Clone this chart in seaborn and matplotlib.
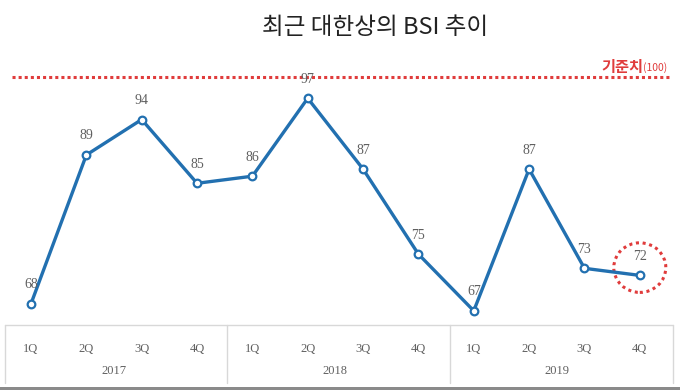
import numpy as np
import pandas as pd
import matplotlib.pyplot as plt
import seaborn as sns
from matplotlib.patches import Ellipse, Rectangle

# Data
years = ['2017', '2018', '2019']
quarters = ['1Q', '2Q', '3Q', '4Q']
bsi = [68, 89, 94, 85, 86, 97, 87, 75, 67, 87, 73, 72]
baseline = 100

df = pd.DataFrame({
    'idx': np.arange(len(bsi)),
    'bsi': bsi,
    'q': quarters * len(years),
})

sns.set_style('white')
plt.rcParams['font.family'] = ['Noto Sans CJK KR', 'DejaVu Sans']

fig = plt.figure(figsize=(6.8, 3.9), dpi=100)
ax = fig.add_axes([5 / 680, 1 - 325 / 390, 668 / 680, 265 / 390])

blue = '#2270b0'
red = '#e03c3c'
gray = '#606060'
serif = ['Liberation Serif', 'DejaVu Serif']

sns.lineplot(data=df, x='idx', y='bsi', ax=ax, color=blue, linewidth=2.4,
             marker='o', markersize=5.5, markerfacecolor='white',
             markeredgecolor=blue, markeredgewidth=1.6)

ax.set_xlim(-0.47, 11.6)
ax.set_ylim(65.0, 102.4)

# baseline line + label
ax.axhline(baseline, xmin=0.01, xmax=0.995, color=red, linestyle=(0, (1, 1)), linewidth=2.2)
ax.annotate('(100)', xy=(11.5, baseline + 0.5), xycoords='data', color=red,
            fontsize=7.5, ha='right', va='bottom')
ax.annotate('기준치', xy=(11.5, baseline + 0.5), xycoords='data', color=red,
            fontsize=11, fontweight='bold', ha='right', va='bottom',
            xytext=(-17.5, -1), textcoords='offset points')

# value labels
for i, v in enumerate(bsi):
    ax.annotate(str(v), (i, v), xytext=(0, 9), textcoords='offset points',
                ha='center', va='bottom', fontsize=10, color=gray, family=serif)

# dotted circle around last point
ax.add_patch(Ellipse((11, 73.1), 0.94, 7.0, fill=False, edgecolor=red,
                     linestyle=(0, (1, 1.2)), linewidth=2.2, clip_on=False))

for s in ax.spines.values():
    s.set_visible(False)
ax.set_yticks([])
ax.set_xlabel('')
ax.set_ylabel('')

ax.set_xticks(df['idx'])
ax.set_xticklabels(df['q'], fontsize=9, color=gray, family=serif)
ax.tick_params(axis='x', length=0, pad=13)

# category table box
line_kw = dict(color='#d8d8d8', linewidth=1.0)
fig.add_artist(plt.Line2D([5 / 680, 673 / 680], [1 - 325 / 390] * 2, **line_kw))
for xp in [5, 227, 450, 673]:
    fig.add_artist(plt.Line2D([xp / 680] * 2, [1 - 325 / 390, 1 - 383 / 390], **line_kw))
for k, yr in enumerate(years):
    ax.text(k * 4 + 1.5, -0.175, yr, transform=ax.get_xaxis_transform(),
            ha='center', va='center', fontsize=9, color=gray, family=serif)

# bottom border strip
fig.add_artist(Rectangle((0, 0), 1, 3 / 390, transform=fig.transFigure,
                         color='#8a8a8a', linewidth=0))

fig.text(375 / 680, 1 - 27 / 390, '최근 대한상의 BSI 추이', ha='center', va='center',
         fontsize=17, color='#222222')

fig.savefig('out.png', dpi=100)
